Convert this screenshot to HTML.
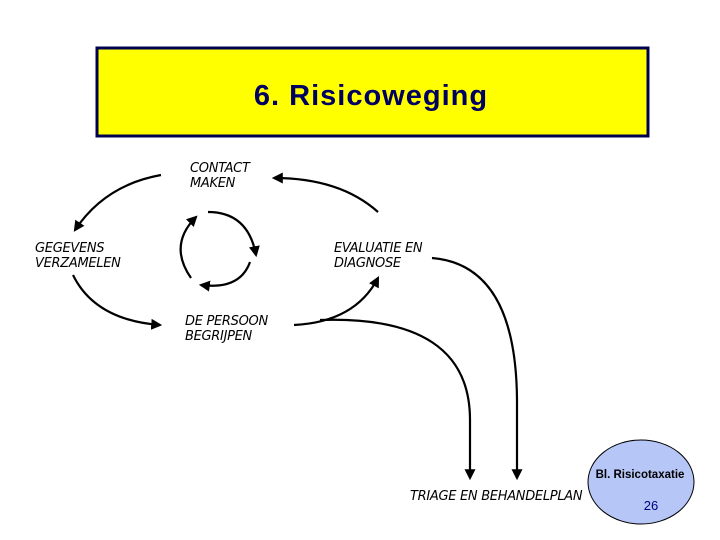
<!DOCTYPE html>
<html><head><meta charset="utf-8"><style>
html,body{margin:0;padding:0;background:#fff;width:720px;height:540px;overflow:hidden}
svg{display:block}
.t{font-family:"DejaVu Sans","Liberation Sans",sans-serif;font-style:italic;font-size:13px;fill:#000;letter-spacing:-0.3px}
</style></head><body>
<svg width="720" height="540" viewBox="0 0 720 540" xmlns="http://www.w3.org/2000/svg">
<defs>
<marker id="a" viewBox="0 0 10 10" refX="8" refY="5" markerWidth="5" markerHeight="5" orient="auto"><path d="M0,0 L10,5 L0,10 z" fill="#000"/></marker>
</defs>
<rect x="97" y="48" width="551" height="88" fill="#ffff00" stroke="#000050" stroke-width="3"/>
<text x="371" y="105" text-anchor="middle" font-family="Liberation Sans,sans-serif" font-weight="bold" font-size="29" fill="#000060" letter-spacing="1">6. Risicoweging</text>

<text class="t" x="190" y="172">CONTACT</text>
<text class="t" x="190" y="187">MAKEN</text>
<text class="t" x="35" y="252">GEGEVENS</text>
<text class="t" x="35" y="267">VERZAMELEN</text>
<text class="t" x="185" y="325">DE PERSOON</text>
<text class="t" x="185" y="340">BEGRIJPEN</text>
<text class="t" x="334" y="252">EVALUATIE EN</text>
<text class="t" x="334" y="267">DIAGNOSE</text>
<text class="t" x="410" y="500">TRIAGE EN BEHANDELPLAN</text>

<g fill="none" stroke="#000" stroke-width="2.2">
<path d="M161,175 Q105,185 75,230" marker-end="url(#a)"/>
<path d="M73,275 Q95,320 160,325" marker-end="url(#a)"/>
<path d="M378,212 Q340,178 274,178" marker-end="url(#a)"/>
<path d="M294,325 Q355,322 378,278" marker-end="url(#a)"/>
<path d="M320,320 Q470,315 470,420 L470,478" marker-end="url(#a)"/>
<path d="M432,258 Q516,265 517,400 L517,478" marker-end="url(#a)"/>
<!-- inner cycle -->
<path d="M208,212 Q248,212 256,255" marker-end="url(#a)"/>
<path d="M250,262 Q240,290 201,285" marker-end="url(#a)"/>
<path d="M191,278 Q168,245 196,217" marker-end="url(#a)"/>
</g>

<ellipse cx="641" cy="482" rx="53" ry="42" fill="#b6c6f6" stroke="#000" stroke-width="1"/>
<text x="640" y="478" text-anchor="middle" font-family="Liberation Sans,sans-serif" font-weight="bold" font-size="11.5" fill="#000">Bl. Risicotaxatie</text>
<text x="651" y="510" text-anchor="middle" font-family="Liberation Sans,sans-serif" font-size="13" fill="#000080">26</text>
</svg>
</body></html>
